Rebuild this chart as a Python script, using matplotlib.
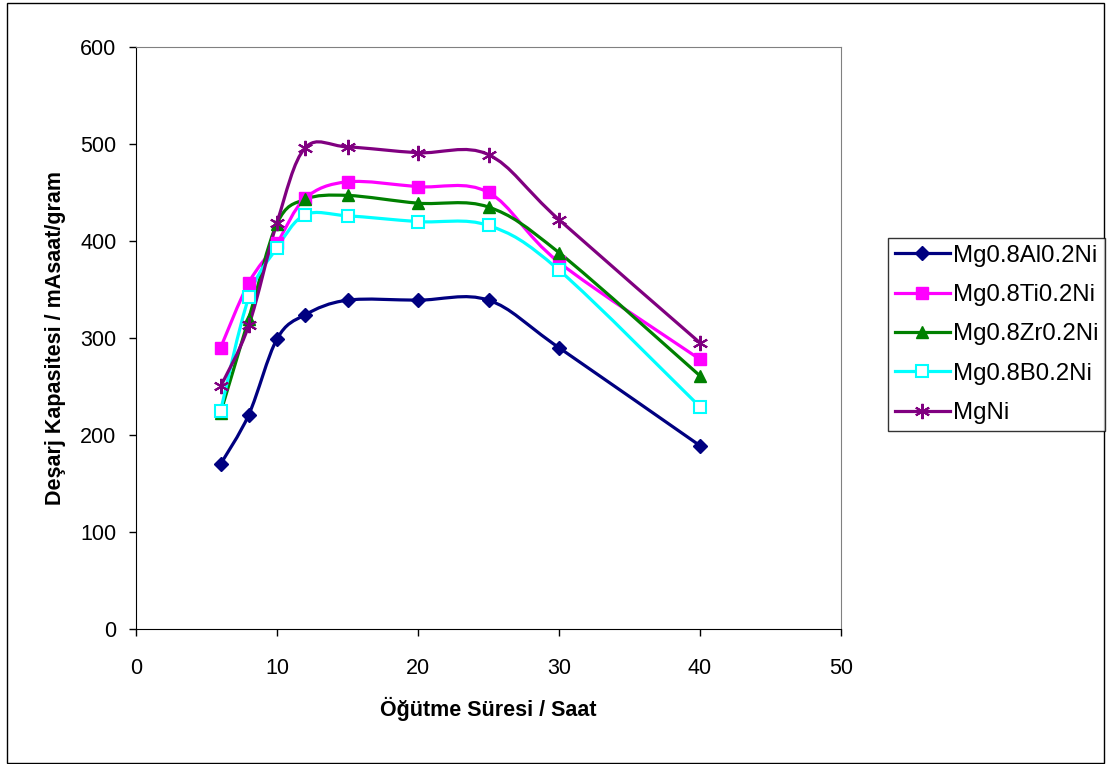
import matplotlib
matplotlib.use("Agg")
import matplotlib.pyplot as plt
import matplotlib.patches as patches
from matplotlib.path import Path
from matplotlib.lines import Line2D
import numpy as np

plt.rcParams['font.family'] = ['Liberation Sans', 'DejaVu Sans']

# Milling time (hours)
hours = [6, 8, 10, 12, 15, 20, 25, 30, 40]

# Discharge capacity (mAh/g) for each alloy
mg_al = [170, 221, 299, 324, 339, 339, 339, 290, 189]
mg_ti = [290, 357, 398, 444, 461, 456, 450, 378, 278]
mg_zr = [223, 320, 418, 443, 447, 439, 435, 388, 261]
mg_b = [225, 342, 393, 427, 426, 420, 416, 370, 229]
mg_ni = [250, 313, 419, 496, 497, 491, 489, 422, 295]

series = [
    ("Mg0.8Al0.2Ni", mg_al, "#000080", dict(marker="D", markersize=7, markerfacecolor="#000080")),
    ("Mg0.8Ti0.2Ni", mg_ti, "#FF00FF", dict(marker="s", markersize=8, markerfacecolor="#FF00FF")),
    ("Mg0.8Zr0.2Ni", mg_zr, "#008000", dict(marker="^", markersize=9, markerfacecolor="#008000")),
    ("Mg0.8B0.2Ni", mg_b, "#00FFFF", dict(marker="s", markersize=8, markerfacecolor="white",
                                           markeredgewidth=1.5)),
    ("MgNi", mg_ni, "#800080", dict(marker=(6, 2, 0), markersize=11, markeredgewidth=1.5)),
]


def smooth_path(xs, ys):
    """Bezier path through the points, Catmull-Rom style like spreadsheet smoothed lines."""
    pts = np.column_stack([xs, ys]).astype(float)
    n = len(pts)
    verts = [pts[0]]
    codes = [Path.MOVETO]
    for i in range(n - 1):
        p0 = pts[i - 1] if i > 0 else pts[i]
        p1 = pts[i]
        p2 = pts[i + 1]
        p3 = pts[i + 2] if i + 2 < n else pts[i + 1]
        c1 = p1 + (p2 - p0) / 6.0
        c2 = p2 - (p3 - p1) / 6.0
        verts += [c1, c2, p2]
        codes += [Path.CURVE4] * 3
    return Path(verts, codes)


W, H = 1108, 764
fig = plt.figure(figsize=(W / 100, H / 100), dpi=100)
ax = fig.add_axes([136 / W, (H - 629) / H, (841 - 136) / W, (629 - 47) / H])

handles = []
for label, vals, color, mk in series:
    ax.add_patch(patches.PathPatch(smooth_path(hours, vals), fill=False,
                                   edgecolor=color, linewidth=2.3, zorder=3))
    ax.plot(hours, vals, linestyle="none", color=color, markeredgecolor=color,
            zorder=4, **mk)
    handles.append(Line2D([], [], color=color, linewidth=2.3, markeredgecolor=color, **mk))

ax.set_xlim(0, 50)
ax.set_ylim(0, 600)
ax.set_xticks(range(0, 51, 10))
ax.set_yticks(range(0, 601, 100))
ax.tick_params(direction="out", length=5, width=1, labelsize=15.5, pad=9)
ax.tick_params(axis="x", pad=16)

for side in ("top", "right"):
    ax.spines[side].set_color("#808080")
for side in ("left", "bottom"):
    ax.spines[side].set_color("black")

ax.set_xlabel("Öğütme Süresi / Saat", fontsize=15.5, fontweight="bold", labelpad=13)
ax.set_ylabel("Deşarj Kapasitesi / mAsaat/gram", fontsize=15.5, fontweight="bold", labelpad=10)

leg = fig.legend(handles=handles, labels=[s[0] for s in series],
                 loc="upper left", bbox_to_anchor=(888 / W, 1 - 238 / H),
                 fontsize=17.3, frameon=True, fancybox=False, handlelength=2.3,
                 handletextpad=0.12, labelspacing=0.72, borderpad=0.28, borderaxespad=0)
leg.get_frame().set_edgecolor("black")
leg.get_frame().set_linewidth(1)

# Outer chart border
fig.add_artist(patches.Rectangle((7 / W, 1 / H), (1104 - 7) / W, (761 - 1) / H,
                                 transform=fig.transFigure, fill=False,
                                 edgecolor="black", linewidth=1))

fig.savefig("out.png", dpi=100)
